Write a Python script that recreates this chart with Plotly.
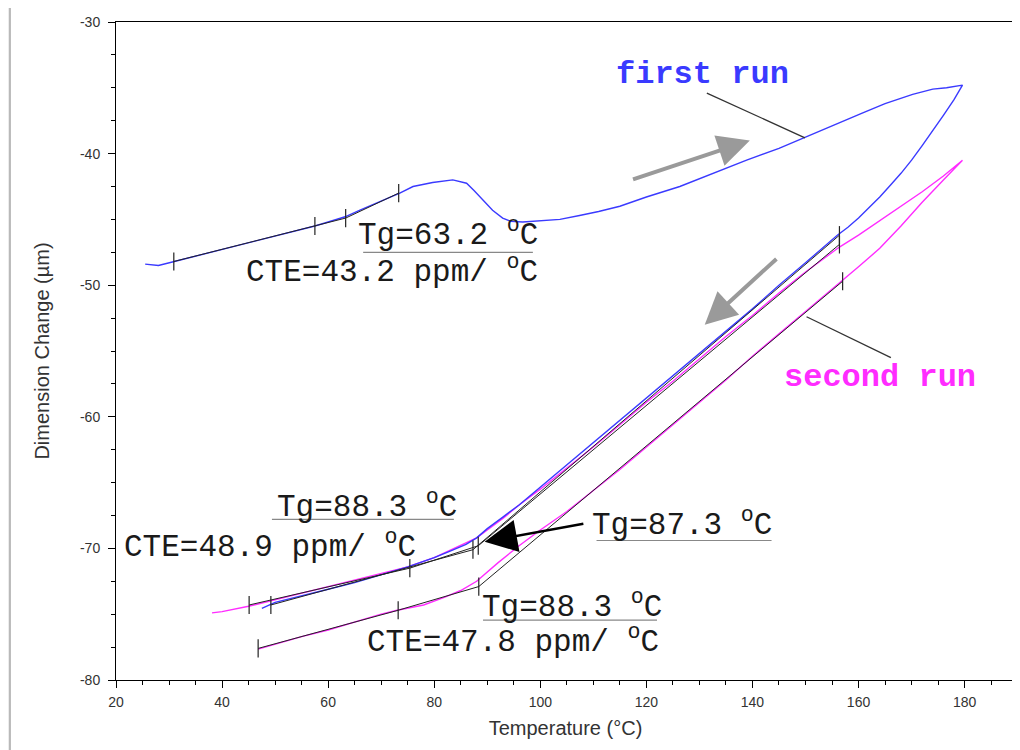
import plotly.graph_objects as go

# ---------------- data ----------------
# first run (blue): heating 25 -> 180 C, then cooling 180 -> 47.5 C
run1_temp = [25.5, 28.0, 31.0, 35.0, 40.0, 45.0, 50.0, 55.0, 57.5, 60.0, 63.2, 66.0, 70.0, 73.5, 76.0,
             79.7, 83.5, 86.1, 87.5, 89.2, 91.0, 92.9, 94.5, 96.7, 100.0, 103.7, 107.4, 111.0, 115.0,
             120.0, 126.3, 130.0, 134.0, 138.9, 145.0, 150.2, 155.0, 160.8, 165.0, 170.2, 174.0,
             176.6, 179.6,
             178.0, 176.0, 174.0, 172.0, 170.0, 168.0, 166.0, 164.0, 162.0, 160.0, 158.0, 156.0,
             150.0, 145.0, 140.0, 135.0, 130.0, 125.0, 120.0, 115.0, 110.0, 105.0, 100.0, 96.0,
             93.0, 90.0, 88.0, 86.0, 83.0, 80.0, 75.0, 70.0, 65.0, 60.0, 55.0, 50.0, 47.5]
run1_dim = [-48.4, -48.5, -48.2, -47.8, -47.3, -46.8, -46.3, -45.8, -45.5, -45.2, -44.8, -44.3, -43.6, -43.0, -42.5,
            -42.2, -42.0, -42.25, -42.8, -43.5, -44.3, -44.9, -45.15, -45.2, -45.1, -45.0, -44.7, -44.4, -44.0,
            -43.3, -42.5, -41.9, -41.3, -40.5, -39.6, -38.7, -37.9, -36.9, -36.2, -35.5, -35.1,
            -35.0, -34.8,
            -35.9, -37.1, -38.3, -39.4, -40.5, -41.5, -42.4, -43.3, -44.1, -44.9, -45.6, -46.2,
            -48.3, -50.0, -51.8, -53.5, -55.2, -56.9, -58.6, -60.3, -62.0, -63.7, -65.4, -66.7,
            -67.6, -68.5, -69.2, -69.7, -70.2, -70.7, -71.4, -72.0, -72.6, -73.1, -73.6, -74.1, -74.55]

# second run (magenta): heating 38 -> 180 C, then cooling 180 -> 47 C
run2_temp = [38.1, 40.0, 45.0, 50.0, 55.0, 60.0, 65.0, 70.0, 75.0, 80.0, 85.0, 88.0, 90.0, 93.0, 96.0,
             100.0, 105.0, 110.0, 115.0, 120.0, 125.0, 130.0, 135.0, 140.0, 145.0, 150.0, 156.4, 160.0,
             164.0, 168.0, 172.0, 176.0, 179.6,
             176.0, 172.0, 168.0, 164.0, 160.0, 156.4, 150.0, 145.0, 140.0, 135.0, 130.0, 125.0, 120.0,
             115.0, 110.0, 105.0, 100.0, 96.0, 92.0, 88.0, 85.0, 82.0, 78.0, 73.0, 70.0, 65.0, 60.0,
             55.0, 50.0, 46.8]
run2_dim = [-74.9, -74.8, -74.4, -73.9, -73.4, -72.9, -72.4, -71.9, -71.4, -70.7, -69.8, -69.2, -68.6, -67.7, -66.7,
            -65.5, -63.9, -62.3, -60.6, -58.9, -57.3, -55.6, -53.9, -52.3, -50.6, -49.0, -47.1, -46.2,
            -45.1, -44.0, -42.9, -41.7, -40.5,
            -42.0, -43.7, -45.5, -47.2, -48.6, -49.8, -52.0, -53.7, -55.4, -57.2, -58.9, -60.6, -62.3,
            -64.0, -65.6, -67.2, -68.6, -69.8, -71.1, -72.5, -73.2, -73.7, -74.3, -74.7, -75.0, -75.6, -76.2,
            -76.7, -77.3, -77.65]

# tangent (fit) lines used for Tg / CTE evaluation, with their range markers
fit1_temp = [30.9, 57.5, 63.3, 73.3]          # first run, Tg = 63.2
fit1_dim = [-48.2, -45.5, -44.9, -43.0]
fit2_temp = [45.1, 75.4, 88.3, 156.4]         # second run heating, Tg = 88.3
fit2_dim = [-74.3, -71.5, -69.8, -46.9]
fit3_temp = [49.2, 87.3, 156.4]               # first run cooling, Tg = 87.3
fit3_dim = [-74.3, -70.1, -46.2]
fit4_temp = [46.8, 73.2, 88.4, 157.0]         # second run cooling, Tg = 88.3
fit4_dim = [-77.6, -74.7, -72.9, -49.7]

x_ticks = [20, 40, 60, 80, 100, 120, 140, 160, 180]
y_ticks = [-80, -70, -60, -50, -40, -30]

BLUE = "#3a3aff"
MAGENTA = "#ff2cff"
MONO = "Courier New, Liberation Mono, monospace"
SANS = "Arial, Liberation Sans, sans-serif"

fig = go.Figure()

fig.add_trace(go.Scatter(x=run2_temp, y=run2_dim, mode="lines",
                         line=dict(color=MAGENTA, width=1.4), showlegend=False))
fig.add_trace(go.Scatter(x=run1_temp, y=run1_dim, mode="lines",
                         line=dict(color=BLUE, width=1.4), showlegend=False))

for ft, fd in [(fit1_temp, fit1_dim), (fit2_temp, fit2_dim), (fit3_temp, fit3_dim), (fit4_temp, fit4_dim)]:
    fig.add_trace(go.Scatter(x=ft, y=fd, mode="lines+markers",
                             line=dict(color="#222222", width=1),
                             marker=dict(symbol="line-ns", size=13, color="#222222",
                                         line=dict(color="#222222", width=1.2)),
                             showlegend=False))

# ---------------- frame (page body adds an 8 px offset) ----------------
OFF = 8
W, H = 1020 - OFF, 750 - OFF
L, R, T, B = 116 - OFF, 1015 - OFF, 22 - OFF, 680 - OFF
pw, ph = R - L, B - T
def px(xp):
    return (xp - OFF - L) / pw
def py(yp):
    return (B - (yp - OFF)) / ph

shapes = [
    dict(type="rect", xref="paper", yref="paper", x0=px(10), x1=px(1040), y0=py(770), y1=py(5),
         fillcolor="white", line=dict(color="#a8a8a8", width=1.5), layer="below"),
]

def seg(x0, y0, x1, y1, color="#222222", width=1.2):
    return dict(type="line", xref="x", yref="y", x0=x0, y0=y0, x1=x1, y1=y1,
                line=dict(color=color, width=width))

# leader lines of the run labels
shapes.append(seg(131.4, -35.4, 149.9, -38.8, "#333333", 1.3))
shapes.append(seg(150.2, -52.4, 166.1, -55.5, "#333333", 1.3))
# underlines of the Tg labels
shapes.append(seg(66.6, -47.5, 98.6, -47.5, "#888888", 1.2))
shapes.append(seg(49.4, -67.8, 83.7, -67.8, "#888888", 1.2))
shapes.append(seg(110.6, -69.4, 143.6, -69.4, "#888888", 1.2))
shapes.append(seg(89.2, -75.45, 122.0, -75.45, "#888888", 1.2))

FS = 31
def label(x, y, text, color="#1a1a1a", size=FS, bold=False):
    t = f"<b>{text}</b>" if bold else text
    return dict(x=x, y=y, xref="x", yref="y", text=t, showarrow=False,
                font=dict(family=MONO, size=size, color=color),
                xanchor="center", yanchor="middle")

DEG = "<sup>o</sup>C"
annotations = [
    label(130.6, -34.0, "first run", BLUE, 32, True),
    label(164.0, -57.05, "second run", MAGENTA, 32, True),
    label(82.6, -46.0, f"Tg=63.2 {DEG}"),
    label(72.0, -48.85, f"CTE=43.2 ppm/ {DEG}"),
    label(67.3, -66.7, f"Tg=88.3 {DEG}"),
    label(49.0, -69.75, f"CTE=48.9 ppm/ {DEG}"),
    label(126.7, -68.1, f"Tg=87.3 {DEG}"),
    label(106.0, -74.3, f"Tg=88.3 {DEG}"),
    label(94.8, -76.95, f"CTE=47.8 ppm/ {DEG}"),
    # direction arrows
    dict(x=139.5, y=-39.0, ax=117.2, ay=-42.0, xref="x", yref="y", axref="x", ayref="y",
         text="", showarrow=True, arrowhead=2, arrowsize=1.6, arrowwidth=4, arrowcolor="#9a9a9a"),
    dict(x=131.0, y=-53.0, ax=144.8, ay=-47.9, xref="x", yref="y", axref="x", ayref="y",
         text="", showarrow=True, arrowhead=2, arrowsize=1.6, arrowwidth=4, arrowcolor="#9a9a9a"),
    dict(x=89.5, y=-69.5, ax=108.4, ay=-68.1, xref="x", yref="y", axref="x", ayref="y",
         text="", showarrow=True, arrowhead=2, arrowsize=2.6, arrowwidth=2.5, arrowcolor="#000000"),
]

fig.update_layout(
    width=W, height=H,
    margin=dict(l=L, r=W - R, t=T, b=H - B, pad=0, autoexpand=False),
    paper_bgcolor="#ececec",
    plot_bgcolor="white",
    shapes=shapes,
    annotations=annotations,
    font=dict(family=SANS, color="#333333"),
)

fig.update_xaxes(
    range=[20, 189.5], tickmode="array", tickvals=x_ticks, ticktext=[str(v) for v in x_ticks],
    showgrid=False, zeroline=False, showline=True, linecolor="black", linewidth=1, mirror=True,
    ticks="outside", ticklen=7, tickcolor="black", tickwidth=1, ticklabelstandoff=2, automargin=False,
    minor=dict(dtick=5, tick0=20, ticks="outside", ticklen=4, tickcolor="black", tickwidth=1),
    tickfont=dict(family=SANS, size=14, color="#333333"),
    title=dict(text="Temperature (°C)", font=dict(family=SANS, size=20, color="#333333"), standoff=12),
)
fig.update_yaxes(
    range=[-80, -30], tickmode="array", tickvals=y_ticks, ticktext=[str(v) for v in y_ticks],
    showgrid=False, zeroline=False, showline=True, linecolor="black", linewidth=1, mirror=True,
    ticks="outside", ticklen=7, tickcolor="black", tickwidth=1, ticklabelstandoff=5, automargin=False,
    minor=dict(dtick=2.5, tick0=-80, ticks="outside", ticklen=4, tickcolor="black", tickwidth=1),
    tickfont=dict(family=SANS, size=14, color="#333333"),
    title=dict(text="Dimension Change (µm)", font=dict(family=SANS, size=20, color="#333333"), standoff=24),
)

fig.write_html("out.html")
